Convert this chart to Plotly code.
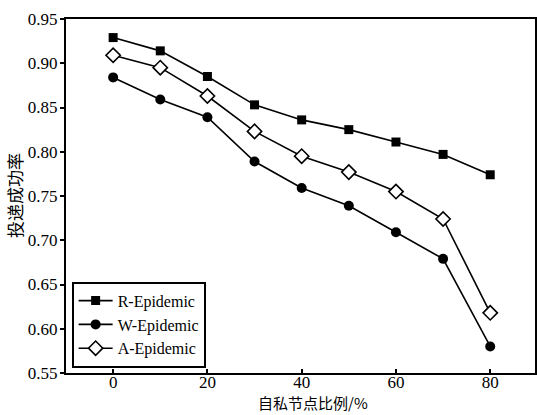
import plotly.graph_objects as go

x_vals = [0, 10, 20, 30, 40, 50, 60, 70, 80]
r_epidemic = [0.929, 0.914, 0.885, 0.853, 0.836, 0.825, 0.811, 0.797, 0.774]
w_epidemic = [0.884, 0.859, 0.839, 0.789, 0.759, 0.739, 0.709, 0.679, 0.580]
a_epidemic = [0.909, 0.895, 0.863, 0.823, 0.795, 0.777, 0.755, 0.724, 0.618]
y_ticks = [0.55, 0.60, 0.65, 0.70, 0.75, 0.80, 0.85, 0.90, 0.95]
x_ticks = [0, 20, 40, 60, 80]
x_title = "自私节点比例/%"
y_title = "投递成功率"

serif = "Liberation Serif, Times New Roman, serif"
cjk = "Noto Sans CJK SC"

fig = go.Figure()
fig.add_trace(go.Scatter(x=x_vals, y=r_epidemic, name="R-Epidemic", mode="lines+markers",
                         line=dict(color="black", width=1.6),
                         marker=dict(symbol="square", size=9, color="black")))
fig.add_trace(go.Scatter(x=x_vals, y=w_epidemic, name="W-Epidemic", mode="lines+markers",
                         line=dict(color="black", width=1.6),
                         marker=dict(symbol="circle", size=10, color="black")))
fig.add_trace(go.Scatter(x=x_vals, y=a_epidemic, name="A-Epidemic", mode="lines+markers",
                         line=dict(color="black", width=1.6),
                         marker=dict(symbol="diamond", size=11, color="white",
                                     line=dict(color="black", width=1.6))))

fig.update_layout(
    width=537, height=415,
    margin=dict(l=66, r=2, t=19, b=42, autoexpand=False),
    paper_bgcolor="white", plot_bgcolor="white",
    font=dict(family=serif, size=17, color="black"),
    showlegend=True,
    legend=dict(x=0.012, y=0.015, xanchor="left", yanchor="bottom",
                bgcolor="white", bordercolor="black", borderwidth=2,
                font=dict(family=serif, size=16), tracegroupgap=0,
                itemwidth=34),
    xaxis=dict(range=[-10, 89.5], tickvals=x_ticks, ticks="inside", ticklen=4,
               tickwidth=1.5, tickcolor="black", automargin=False, ticklabelstandoff=-7,
               showline=True, linecolor="black", linewidth=2, mirror=True,
               showgrid=False, zeroline=False),
    yaxis=dict(range=[0.55, 0.95], tickvals=y_ticks, tickformat=".2f", ticks="outside",
               ticklen=4, tickwidth=1.5, tickcolor="black", automargin=False,
               ticklabelstandoff=-1,
               showline=True, linecolor="black", linewidth=2, mirror=True,
               showgrid=False, zeroline=False),
    annotations=[
        dict(text=x_title, xref="paper", yref="paper", x=(313 - 66) / 469, y=-(402 - 373) / 354,
             xanchor="center", yanchor="middle", showarrow=False,
             font=dict(family=cjk, size=15)),
        dict(text=y_title, xref="paper", yref="paper", x=-(66 - 14) / 469, y=(373 - 196) / 354,
             xanchor="center", yanchor="middle", showarrow=False, textangle=-90,
             font=dict(family=cjk, size=17)),
    ],
)

# remove the browser's default 8px body margin so the figure sits at the window's corner
fig.write_html("out.html", config={"displayModeBar": False},
               post_script="document.body.style.margin='0px';")
